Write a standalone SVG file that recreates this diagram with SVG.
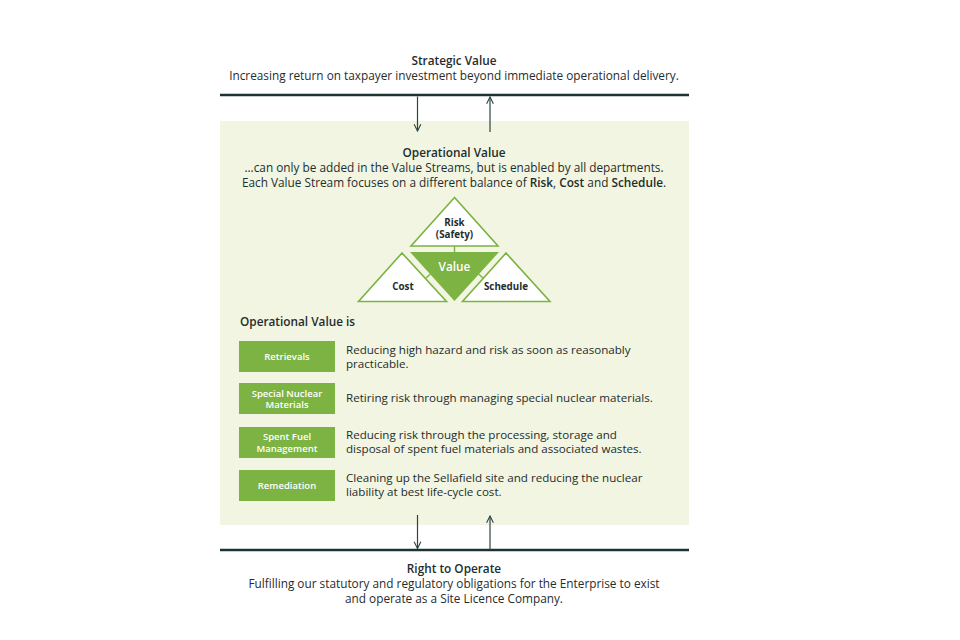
<svg xmlns="http://www.w3.org/2000/svg" width="960" height="640" viewBox="0 0 960 640">
<defs>
<style>
text{font-family:"Open Sans","Liberation Sans",sans-serif;fill:#1f2d2d;font-size:11.8px}
.b{font-weight:600}
.c{text-anchor:middle}
.w{fill:#ffffff}
.d{font-size:11.6px}
.lbl{font-size:9.5px;font-weight:600;fill:#ffffff;text-anchor:middle}
.tl{font-size:9.8px;font-weight:700;text-anchor:middle}
.tri{fill:#ffffff;stroke:#7cb342;stroke-width:1.6}
.box{fill:#7cb342}
.conn{stroke:#2e4444;stroke-width:1.2;fill:none}
.bar{stroke:#1c3333;stroke-width:2.5}
</style>
<marker id="ah" viewBox="0 0 10 10" refX="9" refY="5" markerWidth="7" markerHeight="7" orient="auto">
<path d="M1,1 L9,5 L1,9" fill="none" stroke="#2e4444" stroke-width="1.3"/>
</marker>
</defs>
<rect width="960" height="640" fill="#ffffff"/>
<rect id="panel" x="220" y="121" width="469" height="404" fill="#f1f5e1"/>
<g id="strategic">
<text class="b c" x="454" y="65">Strategic Value</text>
<text class="c" x="454" y="80">Increasing return on taxpayer investment beyond immediate operational delivery.</text>
<line class="bar" x1="220" y1="95" x2="689" y2="95"/>
</g>
<g id="right-to-operate">
<line class="bar" x1="220" y1="550" x2="689" y2="550"/>
<text class="b c" x="454" y="573">Right to Operate</text>
<text class="c" x="454" y="588">Fulfilling our statutory and regulatory obligations for the Enterprise to exist<tspan x="454" dy="15">and operate as a Site Licence Company.</tspan></text>
</g>
<g id="operational">
<text class="b c" x="454" y="157">Operational Value</text>
<text class="c" x="454" y="172">...can only be added in the Value Streams, but is enabled by all departments.</text>
<text class="c" x="454" y="187">Each Value Stream focuses on a different balance of <tspan class="b">Risk</tspan>, <tspan class="b">Cost</tspan> and <tspan class="b">Schedule</tspan>.</text>
</g>
<g id="connectors">
<line class="conn" x1="417.5" y1="96.5" x2="417.5" y2="131" marker-end="url(#ah)"/>
<line class="conn" x1="490" y1="132" x2="490" y2="97" marker-end="url(#ah)"/>
<line class="conn" x1="417.5" y1="515" x2="417.5" y2="548.5" marker-end="url(#ah)"/>
<line class="conn" x1="490" y1="550" x2="490" y2="516" marker-end="url(#ah)"/>
<line x1="454.5" y1="246" x2="454.5" y2="252" stroke="#7cb342" stroke-width="1.4"/>
<line x1="426" y1="278" x2="430.5" y2="274" stroke="#7cb342" stroke-width="1.4"/>
<line x1="483" y1="278" x2="478.5" y2="274" stroke="#7cb342" stroke-width="1.4"/>
</g>
<g id="risk">
<polygon class="tri" points="454.5,197.5 411,246 498,246"/>
<text class="tl" x="454.5" y="226">Risk<tspan x="454.5" dy="12">(Safety)</tspan></text>
</g>
<g id="cost">
<polygon class="tri" points="402,253 358.5,301.5 446.5,301.5"/>
<text class="tl" x="403" y="290">Cost</text>
</g>
<g id="schedule">
<polygon class="tri" points="506,253 462.5,301.5 550,301.5"/>
<text class="tl" x="506" y="290">Schedule</text>
</g>
<g id="value">
<polygon points="410,252 499,252 454.5,301" fill="#7cb342"/>
<text class="c w" x="454.5" y="271" font-size="13.5" font-weight="600">Value</text>
</g>
<g id="list-title">
<text class="b" x="240" y="326">Operational Value is</text>
</g>
<g id="retrievals">
<rect class="box" x="239" y="341" width="96" height="31"/>
<text class="lbl" x="287" y="359.5">Retrievals</text>
<text class="d" x="346" y="353.5">Reducing high hazard and risk as soon as reasonably<tspan x="346" dy="14">practicable.</tspan></text>
</g>
<g id="special-nuclear-materials">
<rect class="box" x="239" y="383" width="96" height="31"/>
<text class="lbl" x="287" y="396.5">Special Nuclear<tspan x="287" dy="11.5">Materials</tspan></text>
<text class="d" x="346" y="402">Retiring risk through managing special nuclear materials.</text>
</g>
<g id="spent-fuel-management">
<rect class="box" x="239" y="427" width="96" height="31"/>
<text class="lbl" x="287" y="440">Spent Fuel<tspan x="287" dy="11.5">Management</tspan></text>
<text class="d" x="346" y="438.5">Reducing risk through the processing, storage and<tspan x="346" dy="14">disposal of spent fuel materials and associated wastes.</tspan></text>
</g>
<g id="remediation">
<rect class="box" x="239" y="470" width="96" height="31"/>
<text class="lbl" x="287" y="488.5">Remediation</text>
<text class="d" x="346" y="481.5">Cleaning up the Sellafield site and reducing the nuclear<tspan x="346" dy="14">liability at best life-cycle cost.</tspan></text>
</g>
</svg>
